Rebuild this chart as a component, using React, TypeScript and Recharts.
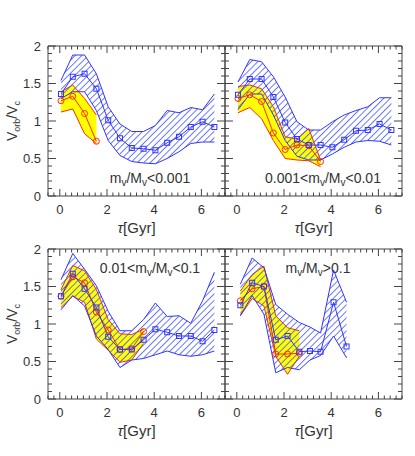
import { Area, ComposedChart, Line, XAxis, YAxis } from "recharts";

// Figure size and colours
const W = 415;
const H = 456;
const INK = "#444";
const TEXT = "#333";
const BLUE = "#3035ff";
const HATCH = "#4456ff";
const RED = "#ff2a00";
const YELLOW = "#ffff00";
const FONT = "'Liberation Sans', Arial, Helvetica, sans-serif";

// tau sample points (Gyr)
const tauABC = [0.05, 0.55, 1.05, 1.55, 2.05, 2.55, 3.05, 3.55, 4.05, 4.55, 5.05, 5.55, 6.05, 6.55];
const tauD = [0.15, 0.65, 1.15, 1.65, 2.15, 2.65, 3.1, 3.55, 4.1, 4.65];

// panel 1: m_v/M_v < 0.001
const blueMid1 = [1.36, 1.59, 1.63, 1.43, 1.01, 0.77, 0.64, 0.63, 0.61, 0.71, 0.79, 0.92, 0.99, 0.92];
const blueHi1 = [1.54, 1.88, 1.88, 1.63, 1.19, 0.96, 0.86, 0.86, 0.94, 1.14, 1.11, 1.18, 1.15, 1.36];
const blueLo1 = [1.3, 1.39, 1.39, 1.14, 0.74, 0.54, 0.46, 0.44, 0.43, 0.5, 0.59, 0.7, 0.72, 0.72];
const redMid1 = [1.27, 1.33, 1.1, 0.73];
const redHi1 = [1.39, 1.48, 1.3, 1.08];
const redLo1 = [1.12, 1.16, 0.83, 0.7];

// panel 2: 0.001 < m_v/M_v < 0.01
const blueMid2 = [1.35, 1.56, 1.56, 1.32, 0.98, 0.76, 0.68, 0.68, 0.65, 0.75, 0.87, 0.88, 0.96, 0.88];
const blueHi2 = [1.52, 1.82, 1.79, 1.59, 1.32, 0.99, 0.88, 0.88, 0.99, 1.08, 1.14, 1.19, 1.31, 1.31];
const blueLo2 = [1.15, 1.36, 1.36, 1.08, 0.74, 0.53, 0.48, 0.48, 0.56, 0.65, 0.72, 0.74, 0.73, 0.68];
const redMid2 = [1.3, 1.35, 1.26, 0.84, 0.62, 0.68, 0.67, 0.46];
const redHi2 = [1.46, 1.48, 1.43, 1.19, 0.79, 0.76, 0.9, 0.48];
const redLo2 = [1.11, 1.18, 1.03, 0.74, 0.5, 0.48, 0.47, 0.39];

// panel 3: 0.01 < m_v/M_v < 0.1
const blueMid3 = [1.37, 1.67, 1.47, 1.22, 0.83, 0.66, 0.66, 0.79, 0.93, 0.89, 0.84, 0.84, 0.77, 0.92];
const blueHi3 = [1.59, 1.94, 1.73, 1.51, 1.17, 0.91, 0.91, 1.06, 1.28, 1.1, 1.11, 1.01, 1.31, 1.69];
const blueLo3 = [1.19, 1.38, 1.24, 0.84, 0.66, 0.42, 0.52, 0.54, 0.59, 0.64, 0.59, 0.57, 0.59, 0.64];
const redMid3 = [1.37, 1.63, 1.55, 1.16, 0.92, 0.66, 0.67, 0.9];
const redHi3 = [1.46, 1.78, 1.71, 1.46, 1.06, 0.87, 0.86, 0.93];
const redLo3 = [1.22, 1.37, 1.29, 0.8, 0.65, 0.49, 0.52, 0.74];

// panel 4: m_v/M_v > 0.1
const blueMid4 = [1.25, 1.55, 1.5, 0.79, 0.84, 0.63, 0.64, 0.63, 1.29, 0.7];
const blueHi4 = [1.53, 1.88, 1.75, 1.26, 1.13, 1.02, 0.96, 0.88, 1.72, 1.29];
const blueLo4 = [1.11, 1.38, 1.13, 0.35, 0.42, 0.39, 0.52, 0.58, 0.84, 0.55];
const redMid4 = [1.31, 1.47, 1.5, 0.6, 0.6, 0.61];
const redHi4 = [1.44, 1.66, 1.77, 1.11, 0.95, 0.91];
const redLo4 = [1.11, 1.34, 1.24, 0.57, 0.33, 0.57];

// tick labels
const xTickLabels = [0, 2, 4, 6];
const yTickLabels = [0, 0.5, 1, 1.5, 2];
const xTicks = Array.from({ length: 31 }, (_, i) => -0.5 + i * 0.25);
const yTicks = Array.from({ length: 21 }, (_, i) => i / 10);

function buildRows(tau: number[], bMid: number[], bLo: number[], bHi: number[], rMid: number[], rLo: number[], rHi: number[]) {
  return tau.map((t, i) => ({
    tau: t,
    blue: [bLo[i], bHi[i]],
    blueMid: bMid[i],
    red: i < rMid.length ? [rLo[i], rHi[i]] : null,
    redMid: i < rMid.length ? rMid[i] : null,
  }));
}

const near = (a: number, b: number) => Math.abs(a - b) < 1e-6;

const bottomTick = (p: any) => {
  const v = p.payload.value;
  const major = xTickLabels.some((l) => near(l, v));
  return (
    <g>
      <line x1={p.x} x2={p.x} y1={p.y} y2={p.y - (major ? 7 : 3.5)} stroke={INK} />
      {major && (
        <text x={p.x} y={p.y + 18} textAnchor="middle" fontSize={13} fill={TEXT} fontFamily={FONT}>
          {v}
        </text>
      )}
    </g>
  );
};

const topTick = (p: any) => {
  const v = p.payload.value;
  const major = xTickLabels.some((l) => near(l, v));
  return <line x1={p.x} x2={p.x} y1={p.y} y2={p.y + (major ? 7 : 3.5)} stroke={INK} />;
};

const leftTick = (withLabel: boolean) => (p: any) => {
  const v = p.payload.value;
  const major = yTickLabels.some((l) => near(l, v));
  return (
    <g>
      <line x1={p.x} x2={p.x + (major ? 8 : 4)} y1={p.y} y2={p.y} stroke={INK} />
      {withLabel && major && (
        <text x={p.x - 7} y={p.y + 4.5} textAnchor="end" fontSize={13} fill={TEXT} fontFamily={FONT}>
          {v}
        </text>
      )}
    </g>
  );
};

const rightTick = (p: any) => {
  const v = p.payload.value;
  const major = yTickLabels.some((l) => near(l, v));
  return <line x1={p.x} x2={p.x - (major ? 8 : 4)} y1={p.y} y2={p.y} stroke={INK} />;
};

const square = (p: any) => {
  if (p.cy == null) return <g key={p.key} />;
  return <rect key={p.key} x={p.cx - 2.5} y={p.cy - 2.5} width={5} height={5} fill="none" stroke={BLUE} strokeWidth={1} />;
};

const circle = (p: any) => {
  if (p.cy == null) return <g key={p.key} />;
  return <circle key={p.key} cx={p.cx} cy={p.cy} r={3} fill="none" stroke={RED} strokeWidth={1} />;
};

function MassLabel({ x, y, pre, post }: { x: number; y: number; pre: string; post: string }) {
  return (
    <text x={x} y={y} textAnchor="middle" fontSize={14} fill={TEXT} fontFamily={FONT}>
      {pre}m
      <tspan fontSize={10} dy={3}>v</tspan>
      <tspan dy={-3}>/M</tspan>
      <tspan fontSize={10} dy={3}>v</tspan>
      <tspan dy={-3}>{post}</tspan>
    </text>
  );
}

type PanelProps = {
  id: string;
  rows: any[];
  left: number;
  right: number;
  top: number;
  bottom: number;
  yLabels: boolean;
  label: { x: number; y: number; pre: string; post: string };
};

// axes are 1px thick, so the margins are pulled in by 1px to keep the plot box where it should be
function Panel({ id, rows, left, right, top, bottom, yLabels, label }: PanelProps) {
  const cx = (left + right) / 2;
  const cy = (top + bottom) / 2;
  return (
    <div style={{ position: "absolute", left: 0, top: 0 }}>
      <ComposedChart
        width={W}
        height={H}
        data={rows}
        margin={{ top: top - 1, left: left - 1, right: W - right - 1, bottom: H - bottom - 1 }}
      >
        <defs>
          <pattern id={`hatch-${id}`} width={4.6} height={4.6} patternUnits="userSpaceOnUse" patternTransform="rotate(45)">
            <line x1={0.5} y1={0} x2={0.5} y2={4.6} stroke={HATCH} strokeWidth={0.8} />
          </pattern>
        </defs>
        <XAxis dataKey="tau" type="number" domain={[-0.5, 7]} ticks={xTicks} interval={0} height={1}
          tickSize={0} tickMargin={0} tickLine={false} axisLine={{ stroke: INK }} tick={bottomTick} allowDataOverflow />
        <XAxis xAxisId="top" orientation="top" dataKey="tau" type="number" domain={[-0.5, 7]} ticks={xTicks}
          interval={0} height={1} tickSize={0} tickMargin={0} tickLine={false} axisLine={{ stroke: INK }} tick={topTick} allowDataOverflow />
        <YAxis type="number" domain={[0, 2]} ticks={yTicks} interval={0} width={1} tickSize={0} tickMargin={0}
          tickLine={false} axisLine={{ stroke: INK }} tick={leftTick(yLabels)} allowDataOverflow />
        <YAxis yAxisId="right" orientation="right" type="number" domain={[0, 2]} ticks={yTicks} interval={0}
          width={1} tickSize={0} tickMargin={0} tickLine={false} axisLine={{ stroke: INK }} tick={rightTick} allowDataOverflow />
        <Area dataKey="red" type="linear" fill={YELLOW} fillOpacity={1} stroke={RED} strokeWidth={1} isAnimationActive={false} dot={false} activeDot={false} />
        <Area dataKey="blue" type="linear" fill={`url(#hatch-${id})`} fillOpacity={1} stroke={BLUE} strokeWidth={1} isAnimationActive={false} dot={false} activeDot={false} />
        <Line dataKey="redMid" type="linear" stroke={RED} strokeWidth={1} dot={circle} activeDot={false} isAnimationActive={false} />
        <Line dataKey="blueMid" type="linear" stroke={BLUE} strokeWidth={1} dot={square} activeDot={false} isAnimationActive={false} />
        <MassLabel {...label} />
        <text x={cx} y={bottom + 37} textAnchor="middle" fontSize={15} fill={TEXT} fontFamily={FONT}>
          <tspan fontStyle="italic">τ</tspan>[Gyr]
        </text>
        {yLabels && (
          <text x={17} y={cy} transform={`rotate(-90 17 ${cy})`} textAnchor="middle" fontSize={14} fill={TEXT} fontFamily={FONT}>
            V<tspan fontSize={9} dy={3}>orb</tspan>
            <tspan dy={-3}>/V</tspan>
            <tspan fontSize={9} dy={3}>c</tspan>
          </text>
        )}
      </ComposedChart>
    </div>
  );
}

const rows1 = buildRows(tauABC, blueMid1, blueLo1, blueHi1, redMid1, redLo1, redHi1);
const rows2 = buildRows(tauABC, blueMid2, blueLo2, blueHi2, redMid2, redLo2, redHi2);
const rows3 = buildRows(tauABC, blueMid3, blueLo3, blueHi3, redMid3, redLo3, redHi3);
const rows4 = buildRows(tauD, blueMid4, blueLo4, blueHi4, redMid4, redLo4, redHi4);

export default function App() {
  return (
    <div style={{ position: "absolute", left: 0, top: 0, width: W, height: H, background: "#fff" }}>
      <Panel id="a" rows={rows1} left={48} right={225} top={46} bottom={196} yLabels
        label={{ x: 150, y: 183, pre: "", post: "<0.001" }} />
      <Panel id="b" rows={rows2} left={225} right={402} top={46} bottom={196} yLabels={false}
        label={{ x: 323, y: 183, pre: "0.001<", post: "<0.01" }} />
      <Panel id="c" rows={rows3} left={48} right={225} top={249} bottom={399} yLabels
        label={{ x: 150, y: 273, pre: "0.01<", post: "<0.1" }} />
      <Panel id="d" rows={rows4} left={225} right={402} top={249} bottom={399} yLabels={false}
        label={{ x: 318, y: 273, pre: "", post: ">0.1" }} />
    </div>
  );
}
